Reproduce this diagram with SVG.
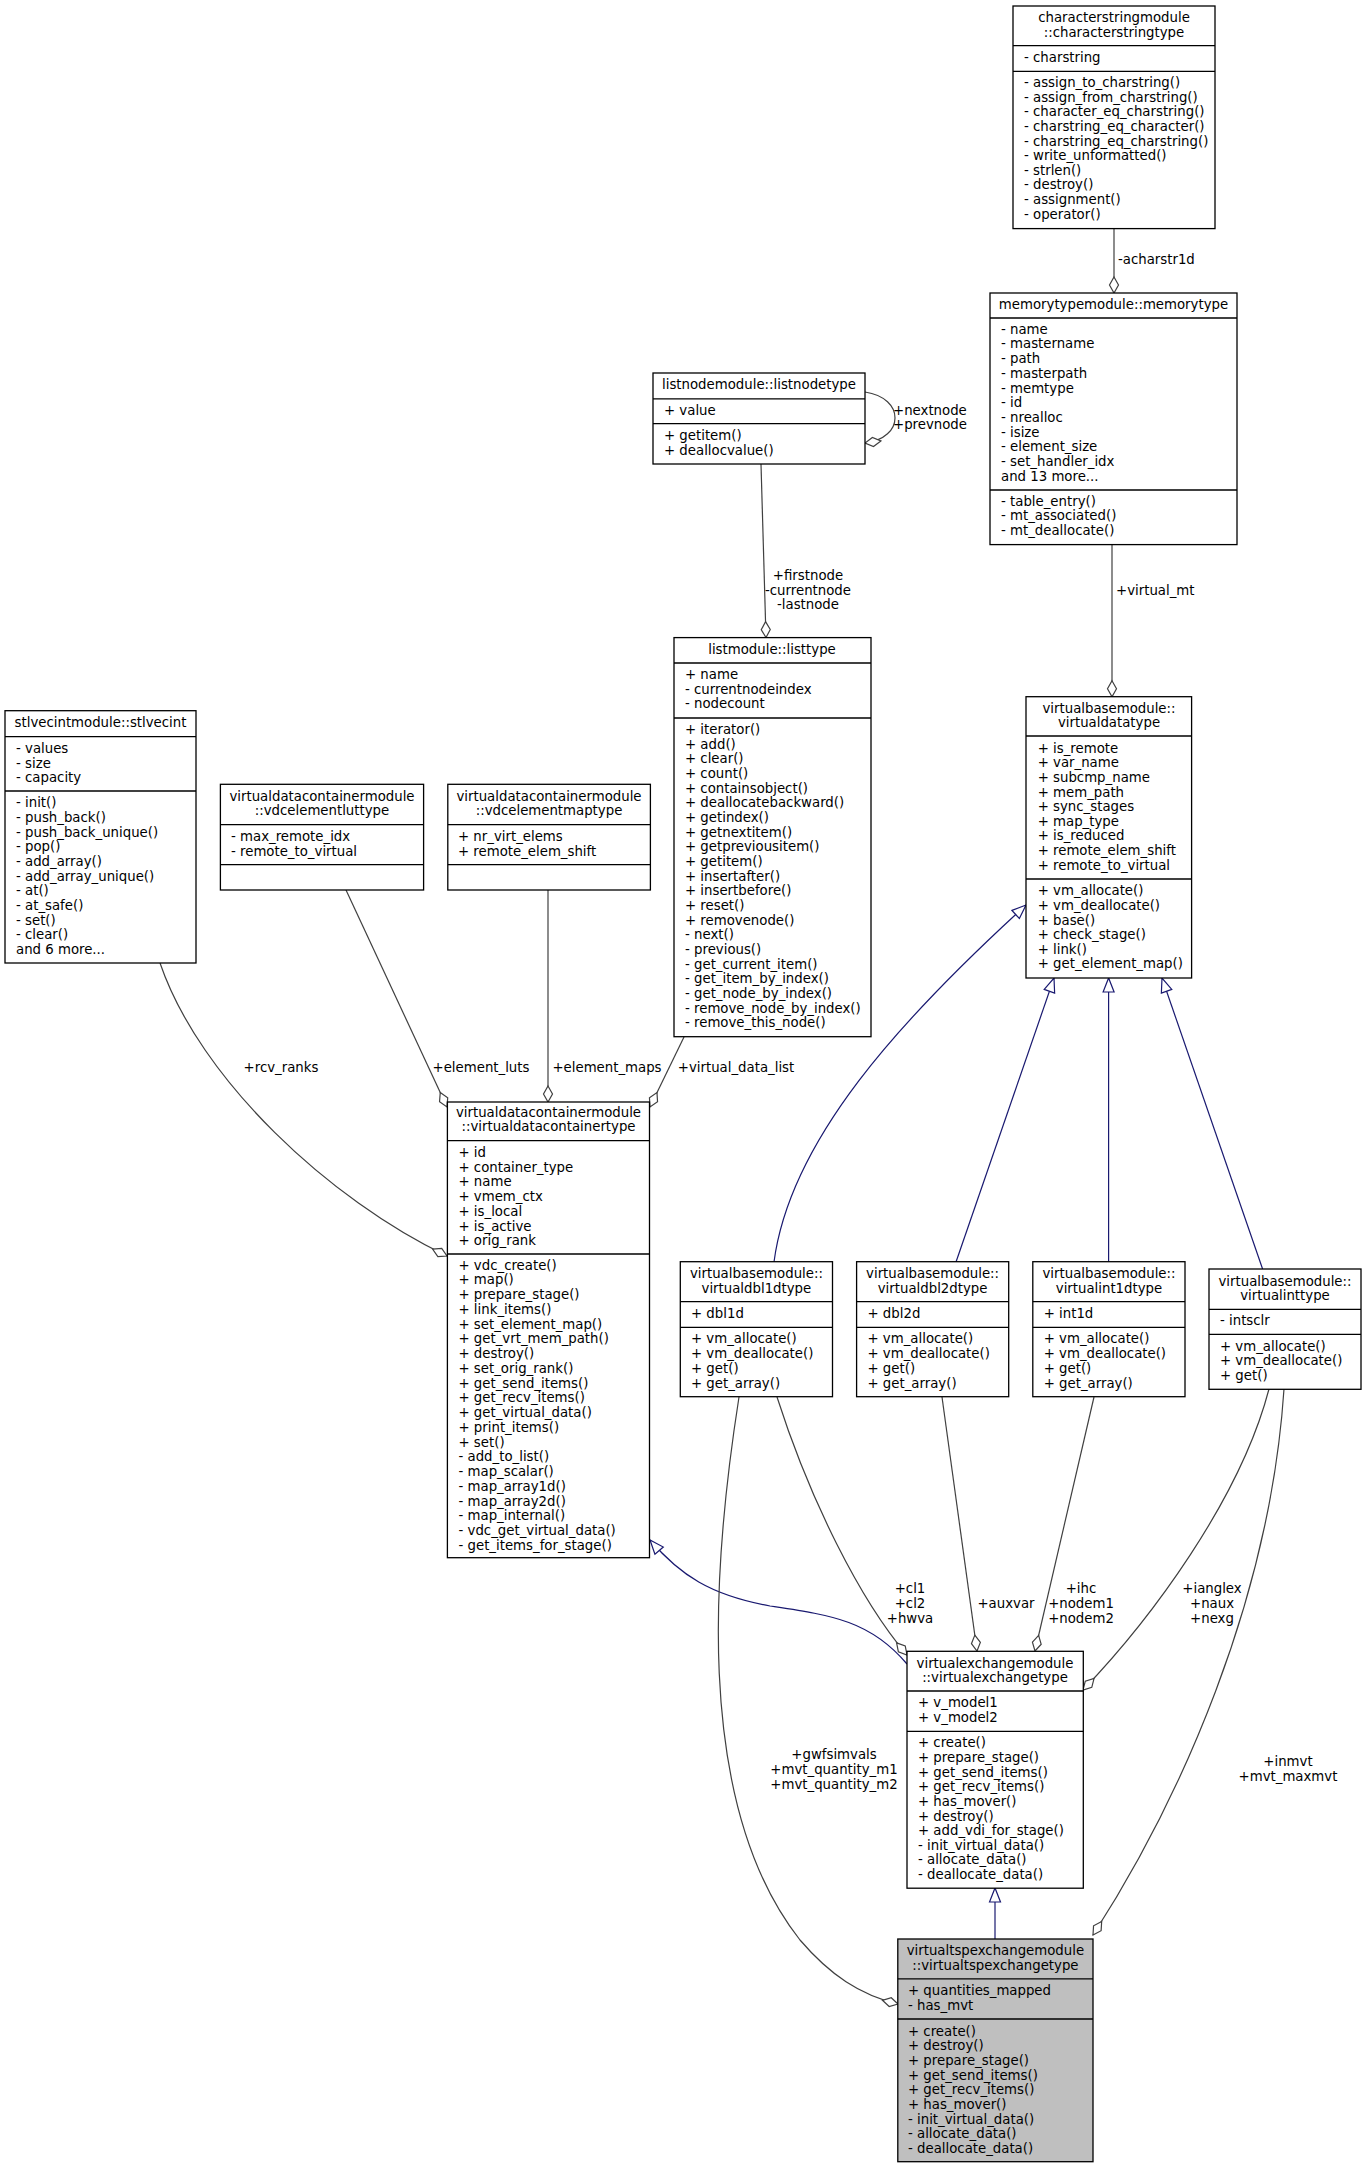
<svg xmlns="http://www.w3.org/2000/svg" width="1366" height="2168" viewBox="0 0 1366 2168">
<style>
text{font-family:"DejaVu Sans","Liberation Sans",sans-serif;font-size:13.3px;fill:#000}
.m{text-anchor:middle}
.box{fill:#fff;stroke:#000;stroke-width:1.3}
.sel{fill:#bfbfbf;stroke:#000;stroke-width:1.3}
.sep{stroke:#000;stroke-width:1.3}
.e{fill:none;stroke:#404040;stroke-width:1.2;marker-end:url(#agg)}
.i{fill:none;stroke:#191970;stroke-width:1.2;marker-end:url(#inh)}
</style>
<defs>
<marker id="agg" markerUnits="userSpaceOnUse" markerWidth="20" markerHeight="12" viewBox="0 -6 18 12" refX="17" refY="0" orient="auto"><path d="M1,0 L9,-4.5 L17,0 L9,4.5 Z" fill="#fff" stroke="#404040" stroke-width="1.2"/></marker>
<marker id="inh" markerUnits="userSpaceOnUse" markerWidth="18" markerHeight="14" viewBox="0 -7 16 14" refX="15" refY="0" orient="auto"><path d="M1,-5.5 L15,0 L1,5.5 Z" fill="#fff" stroke="#191970" stroke-width="1.2"/></marker>
</defs>
<rect width="1366" height="2168" fill="#fff"/>
<g id="connectors">
<path class="e" d="M1114,228.6 L1114,293"/>
<path class="e" d="M761,464 L766,637.6"/>
<path class="e" d="M1112,544.6 L1112,696.7"/>
<path class="e" d="M865,392 C905,398 905,438 865,443"/>
<path class="e" d="M160,963 C200,1080 330,1200 447,1256"/>
<path class="e" d="M346,890 L447,1107"/>
<path class="e" d="M548,890 L548,1102"/>
<path class="e" d="M684,1037 L650,1107"/>
<path class="i" d="M774,1262 C790,1140 900,1020 1026,905"/>
<path class="i" d="M956,1262 L1054,978"/>
<path class="i" d="M1108.6,1262 L1108.6,978"/>
<path class="i" d="M1262.6,1269 L1162,978"/>
<path class="i" d="M907,1664 C870,1620 830,1615 770,1606 C710,1595 680,1575 650,1540"/>
<path class="i" d="M995,1939 L995,1888"/>
<path class="e" d="M777,1397 C810,1500 860,1600 907,1655"/>
<path class="e" d="M942,1397 L977,1651"/>
<path class="e" d="M1094,1397 L1035,1651"/>
<path class="e" d="M1269,1389 C1240,1500 1150,1620 1083,1690"/>
<path class="e" d="M1284,1389 C1270,1600 1180,1800 1093,1935"/>
<path class="e" d="M739,1397 C715,1550 690,1800 800,1940 C830,1975 860,1995 898,2004"/>
<text x="1118" y="263.7">-acharstr1d</text>
<text x="893" y="415.3">+nextnode</text>
<text x="893" y="429.2">+prevnode</text>
<text class="m" x="808" y="579.7">+firstnode</text>
<text class="m" x="808" y="594.7">-currentnode</text>
<text class="m" x="808" y="608.7">-lastnode</text>
<text x="1116" y="595.3">+virtual_mt</text>
<text class="m" x="281" y="1072.4">+rcv_ranks</text>
<text class="m" x="481" y="1072.4">+element_luts</text>
<text class="m" x="607" y="1072.4">+element_maps</text>
<text class="m" x="736" y="1072.4">+virtual_data_list</text>
<text class="m" x="910" y="1592.7">+cl1</text>
<text class="m" x="910" y="1607.7">+cl2</text>
<text class="m" x="910" y="1623.3">+hwva</text>
<text class="m" x="1006" y="1607.7">+auxvar</text>
<text class="m" x="1081" y="1592.7">+ihc</text>
<text class="m" x="1081" y="1607.7">+nodem1</text>
<text class="m" x="1081" y="1623.3">+nodem2</text>
<text class="m" x="1212" y="1592.7">+ianglex</text>
<text class="m" x="1212" y="1607.7">+naux</text>
<text class="m" x="1212" y="1623.3">+nexg</text>
<text class="m" x="1288" y="1766.4">+inmvt</text>
<text class="m" x="1288" y="1781.3">+mvt_maxmvt</text>
<text class="m" x="834" y="1758.7">+gwfsimvals</text>
<text class="m" x="834" y="1773.7">+mvt_quantity_m1</text>
<text class="m" x="834" y="1788.7">+mvt_quantity_m2</text>
</g>
<g id="characterstringtype">
<rect class="box" x="1013" y="6" width="202" height="222.6"/>
<line class="sep" x1="1013" y1="45.7" x2="1215" y2="45.7"/>
<line class="sep" x1="1013" y1="71.4" x2="1215" y2="71.4"/>
<text class="m" x="1114" y="22">characterstringmodule</text>
<text class="m" x="1114" y="37">::characterstringtype</text>
<text x="1024" y="62">- charstring</text>
<text x="1024" y="87.2">- assign_to_charstring()</text>
<text x="1024" y="101.8">- assign_from_charstring()</text>
<text x="1024" y="116.4">- character_eq_charstring()</text>
<text x="1024" y="131">- charstring_eq_character()</text>
<text x="1024" y="145.6">- charstring_eq_charstring()</text>
<text x="1024" y="160.2">- write_unformatted()</text>
<text x="1024" y="174.8">- strlen()</text>
<text x="1024" y="189.4">- destroy()</text>
<text x="1024" y="204">- assignment()</text>
<text x="1024" y="218.6">- operator()</text>
</g>
<g id="memorytype">
<rect class="box" x="990" y="293" width="247" height="251.6"/>
<line class="sep" x1="990" y1="318" x2="1237" y2="318"/>
<line class="sep" x1="990" y1="490" x2="1237" y2="490"/>
<text class="m" x="1113.5" y="309">memorytypemodule::memorytype</text>
<text x="1001" y="333.7">- name</text>
<text x="1001" y="348.4">- mastername</text>
<text x="1001" y="363.1">- path</text>
<text x="1001" y="377.8">- masterpath</text>
<text x="1001" y="392.5">- memtype</text>
<text x="1001" y="407.2">- id</text>
<text x="1001" y="421.9">- nrealloc</text>
<text x="1001" y="436.6">- isize</text>
<text x="1001" y="451.3">- element_size</text>
<text x="1001" y="466">- set_handler_idx</text>
<text x="1001" y="480.7">and 13 more...</text>
<text x="1001" y="505.7">- table_entry()</text>
<text x="1001" y="520.4">- mt_associated()</text>
<text x="1001" y="535.1">- mt_deallocate()</text>
</g>
<g id="listnodetype">
<rect class="box" x="653" y="373" width="212" height="91"/>
<line class="sep" x1="653" y1="398.8" x2="865" y2="398.8"/>
<line class="sep" x1="653" y1="423.7" x2="865" y2="423.7"/>
<text class="m" x="759" y="389.2">listnodemodule::listnodetype</text>
<text x="664" y="415.3">+ value</text>
<text x="664" y="440.2">+ getitem()</text>
<text x="664" y="454.9">+ deallocvalue()</text>
</g>
<g id="listtype">
<rect class="box" x="674" y="637.6" width="197" height="399.1"/>
<line class="sep" x1="674" y1="663" x2="871" y2="663"/>
<line class="sep" x1="674" y1="718" x2="871" y2="718"/>
<text class="m" x="772" y="653.7">listmodule::listtype</text>
<text x="685" y="679">+ name</text>
<text x="685" y="693.7">- currentnodeindex</text>
<text x="685" y="708.4">- nodecount</text>
<text x="685" y="734.1">+ iterator()</text>
<text x="685" y="748.8">+ add()</text>
<text x="685" y="763.4">+ clear()</text>
<text x="685" y="778.1">+ count()</text>
<text x="685" y="792.7">+ containsobject()</text>
<text x="685" y="807.4">+ deallocatebackward()</text>
<text x="685" y="822">+ getindex()</text>
<text x="685" y="836.7">+ getnextitem()</text>
<text x="685" y="851.3">+ getpreviousitem()</text>
<text x="685" y="866">+ getitem()</text>
<text x="685" y="880.6">+ insertafter()</text>
<text x="685" y="895.3">+ insertbefore()</text>
<text x="685" y="909.9">+ reset()</text>
<text x="685" y="924.6">+ removenode()</text>
<text x="685" y="939.2">- next()</text>
<text x="685" y="953.9">- previous()</text>
<text x="685" y="968.5">- get_current_item()</text>
<text x="685" y="983.2">- get_item_by_index()</text>
<text x="685" y="997.8">- get_node_by_index()</text>
<text x="685" y="1012.5">- remove_node_by_index()</text>
<text x="685" y="1027.1">- remove_this_node()</text>
</g>
<g id="virtualdatatype">
<rect class="box" x="1026" y="696.7" width="165.6" height="281.3"/>
<line class="sep" x1="1026" y1="736" x2="1191.6" y2="736"/>
<line class="sep" x1="1026" y1="879" x2="1191.6" y2="879"/>
<text class="m" x="1109" y="712.7">virtualbasemodule::</text>
<text class="m" x="1109" y="727.3">virtualdatatype</text>
<text x="1037.7" y="752.7">+ is_remote</text>
<text x="1037.7" y="767.3">+ var_name</text>
<text x="1037.7" y="781.9">+ subcmp_name</text>
<text x="1037.7" y="796.5">+ mem_path</text>
<text x="1037.7" y="811.1">+ sync_stages</text>
<text x="1037.7" y="825.7">+ map_type</text>
<text x="1037.7" y="840.3">+ is_reduced</text>
<text x="1037.7" y="854.9">+ remote_elem_shift</text>
<text x="1037.7" y="869.5">+ remote_to_virtual</text>
<text x="1037.7" y="895.3">+ vm_allocate()</text>
<text x="1037.7" y="909.9">+ vm_deallocate()</text>
<text x="1037.7" y="924.5">+ base()</text>
<text x="1037.7" y="939.1">+ check_stage()</text>
<text x="1037.7" y="953.7">+ link()</text>
<text x="1037.7" y="968.3">+ get_element_map()</text>
</g>
<g id="stlvecint">
<rect class="box" x="5" y="710.7" width="191" height="252.3"/>
<line class="sep" x1="5" y1="736.7" x2="196" y2="736.7"/>
<line class="sep" x1="5" y1="791" x2="196" y2="791"/>
<text class="m" x="100.5" y="727.4">stlvecintmodule::stlvecint</text>
<text x="16" y="753">- values</text>
<text x="16" y="767.7">- size</text>
<text x="16" y="782.4">- capacity</text>
<text x="16" y="807.4">- init()</text>
<text x="16" y="822.1">- push_back()</text>
<text x="16" y="836.7">- push_back_unique()</text>
<text x="16" y="851.4">- pop()</text>
<text x="16" y="866.1">- add_array()</text>
<text x="16" y="880.7">- add_array_unique()</text>
<text x="16" y="895.4">- at()</text>
<text x="16" y="910.1">- at_safe()</text>
<text x="16" y="924.8">- set()</text>
<text x="16" y="939.4">- clear()</text>
<text x="16" y="954.1">and 6 more...</text>
</g>
<g id="vdcelementluttype">
<rect class="box" x="220.4" y="784.3" width="203.2" height="105.7"/>
<line class="sep" x1="220.4" y1="824.7" x2="423.6" y2="824.7"/>
<line class="sep" x1="220.4" y1="864.7" x2="423.6" y2="864.7"/>
<text class="m" x="322" y="800.7">virtualdatacontainermodule</text>
<text class="m" x="322" y="815.4">::vdcelementluttype</text>
<text x="231" y="841.4">- max_remote_idx</text>
<text x="231" y="856.1">- remote_to_virtual</text>
</g>
<g id="vdcelementmaptype">
<rect class="box" x="447.8" y="784.3" width="202.6" height="105.7"/>
<line class="sep" x1="447.8" y1="824.7" x2="650.4" y2="824.7"/>
<line class="sep" x1="447.8" y1="864.7" x2="650.4" y2="864.7"/>
<text class="m" x="549" y="800.7">virtualdatacontainermodule</text>
<text class="m" x="549" y="815.4">::vdcelementmaptype</text>
<text x="458" y="841.4">+ nr_virt_elems</text>
<text x="458" y="856.1">+ remote_elem_shift</text>
</g>
<g id="virtualdatacontainertype">
<rect class="box" x="447.4" y="1102" width="202.1" height="455.7"/>
<line class="sep" x1="447.4" y1="1140.7" x2="649.5" y2="1140.7"/>
<line class="sep" x1="447.4" y1="1254" x2="649.5" y2="1254"/>
<text class="m" x="548.5" y="1117.4">virtualdatacontainermodule</text>
<text class="m" x="548.5" y="1131.4">::virtualdatacontainertype</text>
<text x="458.5" y="1157">+ id</text>
<text x="458.5" y="1171.7">+ container_type</text>
<text x="458.5" y="1186.4">+ name</text>
<text x="458.5" y="1201.1">+ vmem_ctx</text>
<text x="458.5" y="1215.8">+ is_local</text>
<text x="458.5" y="1230.5">+ is_active</text>
<text x="458.5" y="1245.2">+ orig_rank</text>
<text x="458.5" y="1269.7">+ vdc_create()</text>
<text x="458.5" y="1284.4">+ map()</text>
<text x="458.5" y="1299.2">+ prepare_stage()</text>
<text x="458.5" y="1313.9">+ link_items()</text>
<text x="458.5" y="1328.7">+ set_element_map()</text>
<text x="458.5" y="1343.4">+ get_vrt_mem_path()</text>
<text x="458.5" y="1358.1">+ destroy()</text>
<text x="458.5" y="1372.9">+ set_orig_rank()</text>
<text x="458.5" y="1387.6">+ get_send_items()</text>
<text x="458.5" y="1402.4">+ get_recv_items()</text>
<text x="458.5" y="1417.1">+ get_virtual_data()</text>
<text x="458.5" y="1431.8">+ print_items()</text>
<text x="458.5" y="1446.6">+ set()</text>
<text x="458.5" y="1461.3">- add_to_list()</text>
<text x="458.5" y="1476.1">- map_scalar()</text>
<text x="458.5" y="1490.8">- map_array1d()</text>
<text x="458.5" y="1505.5">- map_array2d()</text>
<text x="458.5" y="1520.3">- map_internal()</text>
<text x="458.5" y="1535">- vdc_get_virtual_data()</text>
<text x="458.5" y="1549.8">- get_items_for_stage()</text>
</g>
<g id="virtualdbl1dtype">
<rect class="box" x="680.3" y="1261.7" width="152.2" height="135"/>
<line class="sep" x1="680.3" y1="1301.7" x2="832.5" y2="1301.7"/>
<line class="sep" x1="680.3" y1="1327.3" x2="832.5" y2="1327.3"/>
<text class="m" x="756.4" y="1278.4">virtualbasemodule::</text>
<text class="m" x="756.4" y="1293.4">virtualdbl1dtype</text>
<text x="691" y="1318">+ dbl1d</text>
<text x="691" y="1343.4">+ vm_allocate()</text>
<text x="691" y="1358.4">+ vm_deallocate()</text>
<text x="691" y="1373">+ get()</text>
<text x="691" y="1387.7">+ get_array()</text>
</g>
<g id="virtualdbl2dtype">
<rect class="box" x="856.6" y="1261.7" width="152.1" height="135"/>
<line class="sep" x1="856.6" y1="1301.7" x2="1008.7" y2="1301.7"/>
<line class="sep" x1="856.6" y1="1327.3" x2="1008.7" y2="1327.3"/>
<text class="m" x="932.6" y="1278.4">virtualbasemodule::</text>
<text class="m" x="932.6" y="1293.4">virtualdbl2dtype</text>
<text x="867.5" y="1318">+ dbl2d</text>
<text x="867.5" y="1343.4">+ vm_allocate()</text>
<text x="867.5" y="1358.4">+ vm_deallocate()</text>
<text x="867.5" y="1373">+ get()</text>
<text x="867.5" y="1387.7">+ get_array()</text>
</g>
<g id="virtualint1dtype">
<rect class="box" x="1032.8" y="1261.7" width="152.2" height="135"/>
<line class="sep" x1="1032.8" y1="1301.7" x2="1185" y2="1301.7"/>
<line class="sep" x1="1032.8" y1="1327.3" x2="1185" y2="1327.3"/>
<text class="m" x="1109" y="1278.4">virtualbasemodule::</text>
<text class="m" x="1109" y="1293.4">virtualint1dtype</text>
<text x="1043.7" y="1318">+ int1d</text>
<text x="1043.7" y="1343.4">+ vm_allocate()</text>
<text x="1043.7" y="1358.4">+ vm_deallocate()</text>
<text x="1043.7" y="1373">+ get()</text>
<text x="1043.7" y="1387.7">+ get_array()</text>
</g>
<g id="virtualinttype">
<rect class="box" x="1209" y="1269" width="152" height="120.3"/>
<line class="sep" x1="1209" y1="1309.3" x2="1361" y2="1309.3"/>
<line class="sep" x1="1209" y1="1334.3" x2="1361" y2="1334.3"/>
<text class="m" x="1285" y="1285.7">virtualbasemodule::</text>
<text class="m" x="1285" y="1300.4">virtualinttype</text>
<text x="1220" y="1325">- intsclr</text>
<text x="1220" y="1351.4">+ vm_allocate()</text>
<text x="1220" y="1365.4">+ vm_deallocate()</text>
<text x="1220" y="1380">+ get()</text>
</g>
<g id="virtualexchangetype">
<rect class="box" x="907" y="1651.3" width="176.3" height="236.9"/>
<line class="sep" x1="907" y1="1691" x2="1083.3" y2="1691"/>
<line class="sep" x1="907" y1="1731.3" x2="1083.3" y2="1731.3"/>
<text class="m" x="995" y="1667.7">virtualexchangemodule</text>
<text class="m" x="995" y="1682">::virtualexchangetype</text>
<text x="918" y="1707.2">+ v_model1</text>
<text x="918" y="1722.2">+ v_model2</text>
<text x="918" y="1747.4">+ create()</text>
<text x="918" y="1762">+ prepare_stage()</text>
<text x="918" y="1776.7">+ get_send_items()</text>
<text x="918" y="1791.3">+ get_recv_items()</text>
<text x="918" y="1805.9">+ has_mover()</text>
<text x="918" y="1820.6">+ destroy()</text>
<text x="918" y="1835.2">+ add_vdi_for_stage()</text>
<text x="918" y="1849.8">- init_virtual_data()</text>
<text x="918" y="1864.4">- allocate_data()</text>
<text x="918" y="1879.1">- deallocate_data()</text>
</g>
<g id="virtualtspexchangetype">
<rect class="sel" x="897.8" y="1939" width="195.2" height="222.7"/>
<line class="sep" x1="897.8" y1="1978.9" x2="1093" y2="1978.9"/>
<line class="sep" x1="897.8" y1="2019" x2="1093" y2="2019"/>
<text class="m" x="995.4" y="1955.2">virtualtspexchangemodule</text>
<text class="m" x="995.4" y="1970.2">::virtualtspexchangetype</text>
<text x="908" y="1994.7">+ quantities_mapped</text>
<text x="908" y="2009.7">- has_mvt</text>
<text x="908" y="2035.7">+ create()</text>
<text x="908" y="2050.4">+ destroy()</text>
<text x="908" y="2065">+ prepare_stage()</text>
<text x="908" y="2079.7">+ get_send_items()</text>
<text x="908" y="2094.3">+ get_recv_items()</text>
<text x="908" y="2109">+ has_mover()</text>
<text x="908" y="2123.7">- init_virtual_data()</text>
<text x="908" y="2138.3">- allocate_data()</text>
<text x="908" y="2153">- deallocate_data()</text>
</g>
</svg>
